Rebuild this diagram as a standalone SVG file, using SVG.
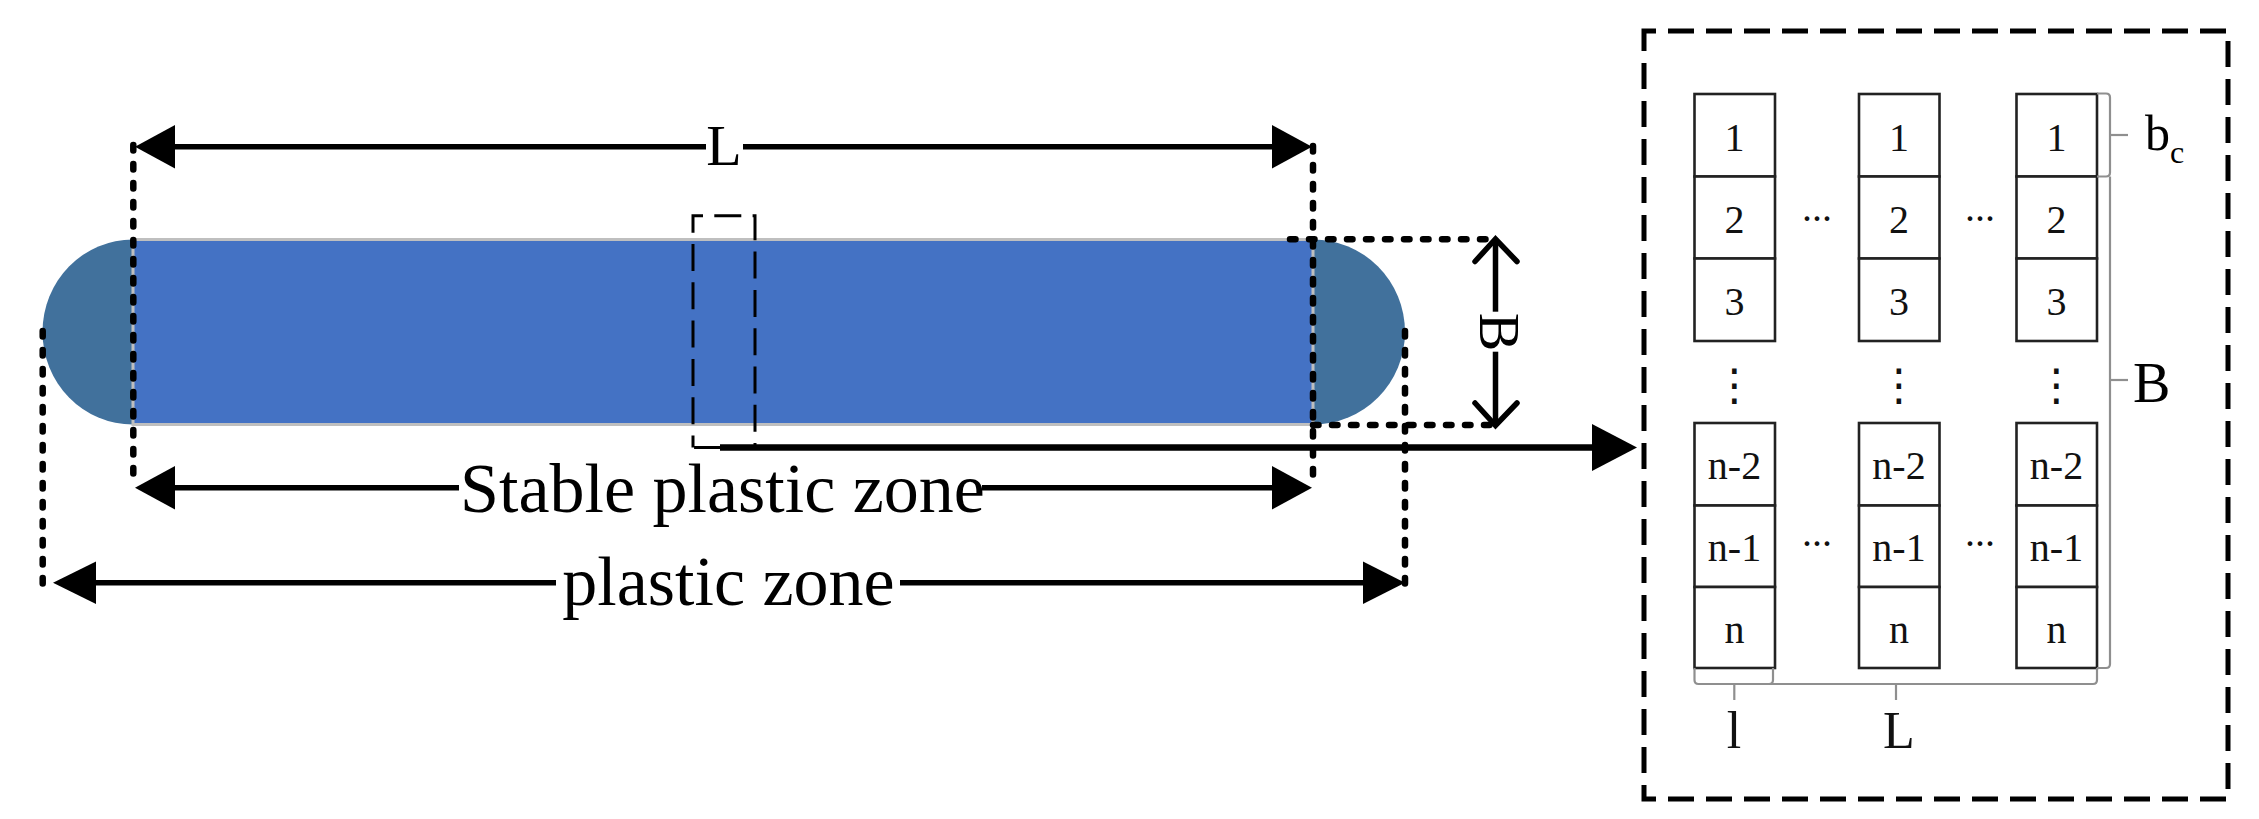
<svg xmlns="http://www.w3.org/2000/svg" width="2259" height="819" viewBox="0 0 2259 819">
<style>
  text { font-family: "Liberation Serif", "Times New Roman", serif; fill: #000; }
  .big { font-size: 70px; text-anchor: middle; }
  .dim { font-size: 58px; text-anchor: middle; }
  .cell { fill: #fff; stroke: #222; stroke-width: 2.6; }
  .num { font-size: 40px; text-anchor: middle; fill: #111; }
  .vdots { font-family: "DejaVu Sans", sans-serif; font-size: 44px; text-anchor: middle; fill: #111; }
  .lbl { font-size: 52px; text-anchor: middle; fill: #111; }
  .brace { fill: none; stroke: #8f8f8f; stroke-width: 2.2; }
  .solid { stroke: #000; stroke-width: 5.5; fill: none; }
  .dotted { stroke: #000; stroke-width: 6.5; stroke-linecap: round; stroke-dasharray: 5.5 13.5; fill: none; }
  .head { fill: #000; }
</style>
<rect x="0" y="0" width="2259" height="819" fill="#fff"/>

<g id="strip">
  <path d="M133,239.5 A90.5,92.5 0 0 0 133,424.5 Z" fill="#41719C"/>
  <path d="M1313,239.5 A92,92.5 0 0 1 1313,424.5 Z" fill="#41719C"/>
  <rect x="133" y="239.5" width="1180" height="185" fill="#4472C4" stroke="#BFBFBF" stroke-width="3"/>
</g>

<g id="section-marker">
  <path d="M693,447.5 V215.7 H755 V447.5 Z" fill="none" stroke="#000" stroke-width="3" stroke-dasharray="27 11.3" stroke-dashoffset="15"/>
</g>

<g id="connectors">
  <line class="dotted" x1="133.3" y1="145" x2="133.3" y2="487"/>
  <line class="dotted" x1="1313" y1="146" x2="1313" y2="487"/>
  <line class="dotted" x1="42.7" y1="331" x2="42.7" y2="594"/>
  <line class="dotted" x1="1405" y1="331" x2="1405" y2="594"/>
  <line class="dotted" x1="1290" y1="239.3" x2="1493" y2="239.3"/>
  <line class="dotted" x1="1313" y1="425" x2="1493" y2="425"/>

  <line class="solid" x1="170" y1="146.7" x2="706" y2="146.7"/>
  <line class="solid" x1="743" y1="146.7" x2="1276" y2="146.7"/>
  <polygon class="head" points="135,146.7 175,125 175,168.4"/>
  <polygon class="head" points="1312,146.7 1272,125 1272,168.4"/>

  <line class="solid" x1="170" y1="487.7" x2="459" y2="487.7"/>
  <line class="solid" x1="982" y1="487.7" x2="1276" y2="487.7"/>
  <polygon class="head" points="135,487.7 175,466 175,509.4"/>
  <polygon class="head" points="1312,487.7 1272,466 1272,509.4"/>

  <line class="solid" x1="92" y1="582.7" x2="556" y2="582.7"/>
  <line class="solid" x1="900" y1="582.7" x2="1366" y2="582.7"/>
  <polygon class="head" points="53,582.7 96,561.5 96,604"/>
  <polygon class="head" points="1405,582.7 1363,561.5 1363,604"/>

  <line x1="1495.5" y1="240" x2="1495.5" y2="311.7" stroke="#000" stroke-width="5.5"/>
  <line x1="1495.5" y1="351.7" x2="1495.5" y2="424" stroke="#000" stroke-width="5.5"/>
  <polyline points="1475,261.5 1495.5,239 1517,261.5" fill="none" stroke="#000" stroke-width="5.5" stroke-linecap="round"/>
  <polyline points="1475,403 1495.5,425.5 1517,403" fill="none" stroke="#000" stroke-width="5.5" stroke-linecap="round"/>

  <line x1="720" y1="447.5" x2="1596" y2="447.5" stroke="#000" stroke-width="6.7"/>
  <polygon class="head" points="1637,447.5 1592,424 1592,471"/>
</g>

<g id="dimension-labels">
  <text class="dim" x="724" y="165">L</text>
  <text class="big" x="722.5" y="512">Stable plastic zone</text>
  <text class="big" x="728.5" y="605">plastic zone</text>
  <text class="dim" transform="translate(1480,332) rotate(90)" x="0" y="0">B</text>
</g>

<g id="detail-box">
  <path d="M1644,45 V31 H2228 V799 H1644 Z" fill="none" stroke="#000" stroke-width="5" stroke-dasharray="26 12"/>

  <g id="column-1">
    <rect class="cell" x="1694.5" y="94" width="80.5" height="82.5"/>
    <rect class="cell" x="1694.5" y="176.5" width="80.5" height="82"/>
    <rect class="cell" x="1694.5" y="258.5" width="80.5" height="82.5"/>
    <rect class="cell" x="1694.5" y="423" width="80.5" height="82.5"/>
    <rect class="cell" x="1694.5" y="505.5" width="80.5" height="81.5"/>
    <rect class="cell" x="1694.5" y="587" width="80.5" height="81"/>
    <text class="num" x="1734.5" y="150.5">1</text>
    <text class="num" x="1734.5" y="232.5">2</text>
    <text class="num" x="1734.5" y="315">3</text>
    <text class="num" x="1734.5" y="479">n-2</text>
    <text class="num" x="1734.5" y="561">n-1</text>
    <text class="num" x="1734.5" y="642.5">n</text>
    <text class="vdots" x="1734.5" y="400">⋮</text>
  </g>

  <g id="column-2">
    <rect class="cell" x="1859" y="94" width="80.5" height="82.5"/>
    <rect class="cell" x="1859" y="176.5" width="80.5" height="82"/>
    <rect class="cell" x="1859" y="258.5" width="80.5" height="82.5"/>
    <rect class="cell" x="1859" y="423" width="80.5" height="82.5"/>
    <rect class="cell" x="1859" y="505.5" width="80.5" height="81.5"/>
    <rect class="cell" x="1859" y="587" width="80.5" height="81"/>
    <text class="num" x="1899" y="150.5">1</text>
    <text class="num" x="1899" y="232.5">2</text>
    <text class="num" x="1899" y="315">3</text>
    <text class="num" x="1899" y="479">n-2</text>
    <text class="num" x="1899" y="561">n-1</text>
    <text class="num" x="1899" y="642.5">n</text>
    <text class="vdots" x="1899" y="400">⋮</text>
  </g>

  <g id="column-3">
    <rect class="cell" x="2016.5" y="94" width="80.5" height="82.5"/>
    <rect class="cell" x="2016.5" y="176.5" width="80.5" height="82"/>
    <rect class="cell" x="2016.5" y="258.5" width="80.5" height="82.5"/>
    <rect class="cell" x="2016.5" y="423" width="80.5" height="82.5"/>
    <rect class="cell" x="2016.5" y="505.5" width="80.5" height="81.5"/>
    <rect class="cell" x="2016.5" y="587" width="80.5" height="81"/>
    <text class="num" x="2056.5" y="150.5">1</text>
    <text class="num" x="2056.5" y="232.5">2</text>
    <text class="num" x="2056.5" y="315">3</text>
    <text class="num" x="2056.5" y="479">n-2</text>
    <text class="num" x="2056.5" y="561">n-1</text>
    <text class="num" x="2056.5" y="642.5">n</text>
    <text class="vdots" x="2056.5" y="400">⋮</text>
  </g>

  <g id="ellipses">
    <text class="num" x="1817" y="220.5">...</text>
    <text class="num" x="1980" y="220.5">...</text>
    <text class="num" x="1817" y="546">...</text>
    <text class="num" x="1980" y="546">...</text>
  </g>

  <g id="braces">
    <path class="brace" d="M2097,93.5 H2106 Q2110,93.5 2110,97.5 V172.5 Q2110,176.5 2106,176.5 H2097"/>
    <path class="brace" d="M2110,135 H2128"/>
    <path class="brace" d="M2110,176.5 V664 Q2110,668 2106,668 H2097"/>
    <path class="brace" d="M2110,380 H2128"/>
    <path class="brace" d="M1694.5,668 V680 Q1694.5,684 1698.5,684 H2093 Q2097,684 2097,680 V668"/>
    <path class="brace" d="M1773,668 V680 Q1773,684 1769,684"/>
    <path class="brace" d="M1734.3,684 V700"/>
    <path class="brace" d="M1896,684 V700"/>
  </g>

  <g id="box-labels">
    <text x="2145" y="150" style="font-size:50px" fill="#111">b<tspan dy="13" style="font-size:32px">c</tspan></text>
    <text x="2133" y="402" style="font-size:56px" fill="#111">B</text>
    <text class="lbl" x="1734" y="748">l</text>
    <text class="lbl" x="1899" y="748">L</text>
  </g>
</g>
</svg>
